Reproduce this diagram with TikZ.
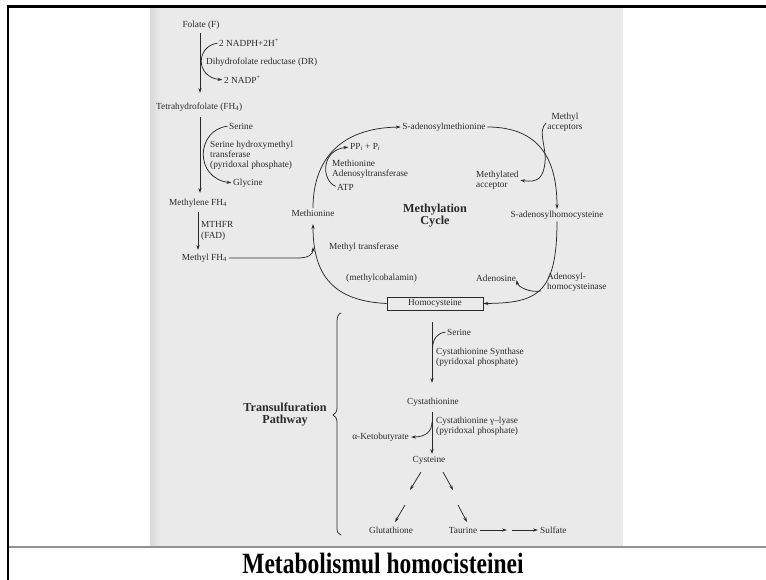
\documentclass[tikz,border=0pt]{standalone}
\usepackage{fontspec}
\setmainfont{Liberation Serif}
\usetikzlibrary{arrows.meta}
\definecolor{inkc}{HTML}{2A2A2A}
\definecolor{scanbg}{HTML}{EAEAEA}
\definecolor{scanedge}{HTML}{D8D8D8}
\definecolor{rulegray}{HTML}{929292}
\begin{document}
\begin{tikzpicture}[x=1pt,y=-1pt,
  line/.style={draw=inkc, line width=0.75pt},
  arr/.style={line, -{Stealth[length=5pt,width=3.2pt]}},
  gap/.style={shorten <=1.5pt, shorten >=1.5pt},
  lbl/.style={inner sep=0pt, text=inkc, font=\fontsize{9.3}{9.8}\selectfont, align=left},
  ttl/.style={inner sep=0pt, text=inkc, font=\bfseries\fontsize{12.2}{12}\selectfont, align=center},
  boxed/.style={lbl, draw=inkc, line width=0.75pt, minimum width=96pt, minimum height=13pt}
]
\useasboundingbox (0,0) rectangle (766,580);

% page background and frame
\fill[white] (0,0) rectangle (766,580);
\fill[scanbg] (150,8) rectangle (623,546);
\shade[left color=scanedge, right color=scanbg] (150,8) rectangle (160,546);
\draw[rulegray, line width=1.6pt] (9,547) -- (766,547);
\draw[black, line width=3pt] (7,6.5) -- (766,6.5);
\draw[black, line width=2.5pt] (8,5) -- (8,580);

% folate branch
\node[lbl] (folate) at (201,25) {Folate (F)};
\node[lbl, anchor=west] (nadph) at (219,43) {2 NADPH+2H\textsuperscript{+}};
\node[lbl, anchor=west] (dr) at (206,62) {Dihydrofolate reductase (DR)};
\node[lbl, anchor=west] (nadp) at (224,80) {2 NADP\textsuperscript{+}};
\node[lbl, anchor=west] (thf) at (156,107) {Tetrahydrofolate (FH\textsubscript{4})};
\node[lbl, anchor=west] (ser1) at (229,126) {Serine};
\node[lbl, anchor=west] (shmt) at (210,155) {Serine hydroxymethyl\\transferase\\(pyridoxal phosphate)};
\node[lbl, anchor=west] (gly) at (233,183) {Glycine};
\node[lbl] (mfh4) at (198,203) {Methylene FH\textsubscript{4}};
\node[lbl, anchor=west, font=\fontsize{9.3}{11.5}\selectfont] (mthfr) at (201,231) {MTHFR\\(FAD)};
\node[lbl, anchor=east] (methylfh4) at (227,258) {Methyl FH\textsubscript{4}};

\coordinate (f1) at (200,33);
\coordinate (f2) at (200,93);
\draw[arr] (f1) -- (f2);
\draw[arr, gap] (nadph.west) .. controls (196,46) and (195,77) .. (nadp.west);
\coordinate (t1) at (200,117);
\coordinate (t2) at (200,193);
\draw[arr] (t1) -- (t2);
\draw[arr, gap] (ser1.west) .. controls (196,130) and (194,178) .. (gly.west);
\coordinate (m1) at (198,212);
\coordinate (m2) at (198,250);
\draw[arr] (m1) -- (m2);

% methylation cycle
\node[lbl] (met) at (313,213) {Methionine};
\node[lbl, anchor=west] (matase) at (332,169) {Methionine\\Adenosyltransferase};
\node[lbl, anchor=west] (atp) at (337,187) {ATP};
\node[lbl, anchor=west] (ppi) at (350,147) {PP\textsubscript{\itshape i} + P\textsubscript{\itshape i}};
\node[lbl] (sam) at (444,127) {S-adenosylmethionine};
\node[lbl, align=center] (macc) at (565,122) {Methyl\\acceptors};
\node[lbl, anchor=west] (mated) at (476,180) {Methylated\\acceptor};
\node[lbl] (sah) at (557,215) {S-adenosylhomocysteine};
\node[ttl] (cycle) at (435,216) {Methylation\\Cycle};
\node[lbl, anchor=west] (mtr) at (329,247) {Methyl transferase};
\node[lbl, anchor=west] (mcob) at (346,278) {(methylcobalamin)};
\node[lbl, anchor=west] (ado) at (476,278) {Adenosine};
\node[lbl, anchor=west] (sahh) at (547,282) {Adenosyl-\\homocysteinase};
\node[boxed] (hcy) at (435,303.5) {Homocysteine};

\coordinate (mjoin) at (313,247);
\coordinate (mtop) at (313,224);
\draw[arr, shorten <=2pt] (methylfh4.east) -- (298,258) .. controls (309,258) and (313,254) .. (mjoin);
\draw[arr] (hcy.west) .. controls (334,301) and (313,276) .. (mtop);
\draw[arr, gap] (met.north) .. controls (313,160) and (340,128) .. (sam.west);
\draw[arr, gap] (atp.west) .. controls (321,180) and (321,150) .. (ppi.west);
\draw[arr, gap] (sam.east) .. controls (540,127) and (557,160) .. (sah.north);
\coordinate (accbend) at (545,163);
\draw[line, shorten <=1.5pt] (macc.west) .. controls (537,131) and (547,148) .. (accbend);
\draw[arr, shorten >=1.5pt] (accbend) .. controls (543,177) and (539,183) .. (mated.east);
\coordinate (adoout) at (541,291);
\draw[arr, shorten <=2pt] (sah.south) .. controls (557,294) and (537,303) .. (hcy.east);
\draw[arr, shorten >=2pt] (adoout) .. controls (530,293) and (518,287) .. (ado.east);

% transsulfuration pathway
\node[lbl, anchor=west] (ser2) at (447,332) {Serine};
\node[lbl, anchor=west] (cbs) at (436,357.5) {Cystathionine Synthase\\(pyridoxal phosphate)};
\node[lbl] (cysta) at (433,402) {Cystathionine};
\node[lbl, anchor=west] (cgl) at (436,426) {Cystathionine γ–lyase\\(pyridoxal phosphate)};
\node[lbl, anchor=east] (akb) at (409,437) {α-Ketobutyrate};
\node[lbl] (cys) at (429,460) {Cysteine};
\node[lbl] (gsh) at (391,530) {Glutathione};
\node[lbl] (tau) at (463,530) {Taurine};
\node[lbl, anchor=west] (sulf) at (540,530) {Sulfate};
\node[ttl] (trans) at (285,415) {Transulfuration\\Pathway};

\coordinate (h1) at (432,322);
\coordinate (h2) at (432,383);
\coordinate (sjoin) at (432.5,348);
\draw[arr] (h1) -- (h2);
\draw[line, shorten <=1.5pt] (ser2.west) .. controls (437,333) and (433,339) .. (sjoin);
\coordinate (c1) at (432,412);
\coordinate (c2) at (432,454);
\coordinate (kjoin) at (432,422);
\draw[arr] (c1) -- (c2);
\draw[arr, shorten >=2pt] (kjoin) .. controls (432,432) and (425,437) .. (akb.east);
\coordinate (la) at (421,472);
\coordinate (lb) at (410,490);
\coordinate (lc) at (405,505);
\coordinate (ld) at (395,522);
\coordinate (ra) at (443,472);
\coordinate (rb) at (453,490);
\coordinate (rc) at (458,505);
\coordinate (rd) at (467,522);
\draw[arr] (la) -- (lb);
\draw[arr] (lc) -- (ld);
\draw[arr] (ra) -- (rb);
\draw[arr] (rc) -- (rd);
\coordinate (s2) at (507,530);
\coordinate (s3) at (512,530);
\draw[arr] (tau.east) ++(3,0) -- (s2);
\draw[arr, shorten >=2pt] (s3) -- (sulf.west);

% brace grouping the transsulfuration steps
\draw[line] (341,313) .. controls (338,314) and (337,317) .. (337,322) -- (337,408)
  .. controls (337,412) and (335,414) .. (333,415)
  .. controls (335,416) and (337,418) .. (337,422) -- (337,528)
  .. controls (337,532) and (338,534) .. (341,535);

% caption
\node[inner sep=0pt, font=\bfseries\fontsize{23.5}{24}\selectfont] (cap) at (383,563.5) {\scalebox{1}[1.25]{Metabolismul homocisteinei}};
\end{tikzpicture}
\end{document}
